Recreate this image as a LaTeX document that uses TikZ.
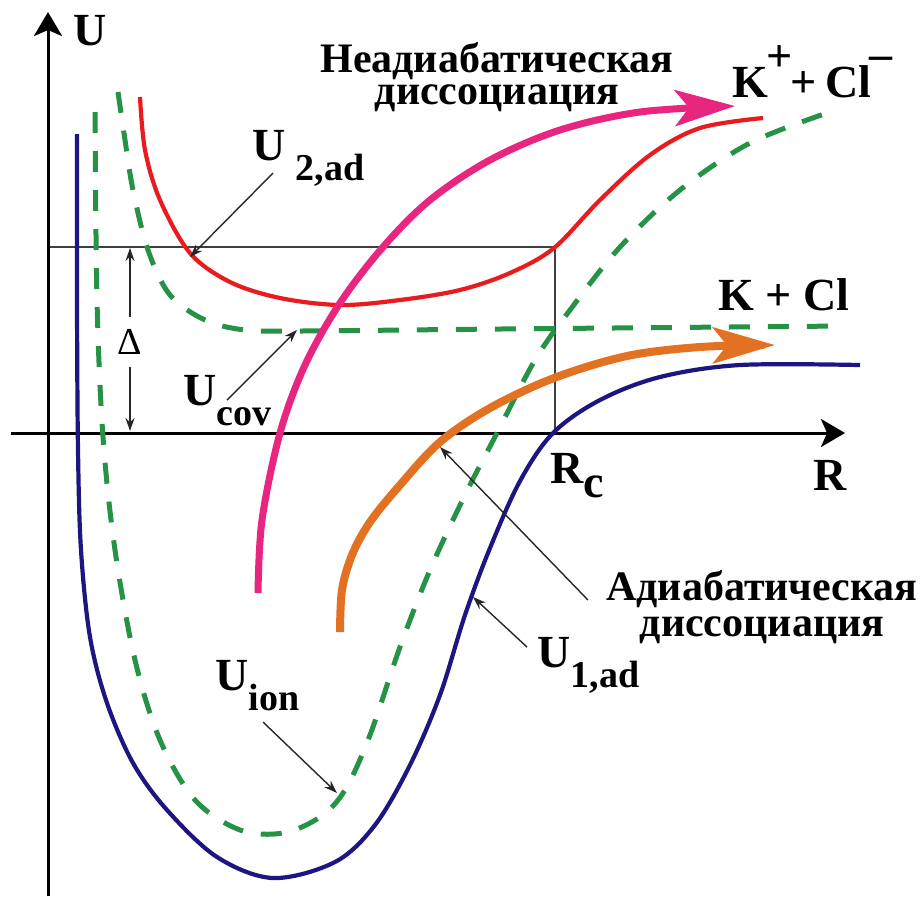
\documentclass[tikz,border=0pt]{standalone}
\usepackage{fontspec}
\setmainfont{Liberation Serif}
\usepackage{tikz}
\usetikzlibrary{positioning}
\usetikzlibrary{calc,arrows.meta}
\definecolor{adblue}{RGB}{30,22,128}
\definecolor{adred}{RGB}{232,28,30}
\definecolor{diagreen}{RGB}{38,146,70}
\definecolor{jumppink}{RGB}{232,38,128}
\definecolor{slideorange}{RGB}{226,114,34}
\newcommand{\lsub}[1]{\raisebox{-10pt}{\fontsize{19}{19}\selectfont #1}}

\begin{document}
\begin{tikzpicture}[x=0.5pt, y=-0.5pt,
axis/.style={line width=1.5pt, -{Stealth[length=12pt, width=14pt, inset=3pt]}},
guide/.style={line width=0.8pt, black!75},
pointer/.style={line width=0.7pt, black!85, -{Stealth[length=6.5pt, width=4.5pt]}},
adcurve/.style={line width=2.1pt},
diacurve/.style={line width=2.5pt, diagreen, dash pattern=on 10.5pt off 9pt},
lab/.style={font=\bfseries\fontsize{23}{23}\selectfont, inner sep=0pt, anchor=base west},
rus/.style={font=\bfseries\fontsize{21}{16}\selectfont, align=center, inner sep=0pt, anchor=north}
]
\useasboundingbox (0,0) rectangle (920,896);
%Points
\coordinate (ybot) at (48,896);
\coordinate (ytop) at (48,12);
\coordinate (xleft) at (11,433);
\coordinate (xright) at (845,433);
\coordinate (hl) at (48,247);
\coordinate (rctop) at (555,247);
\coordinate (rcbot) at (555,433);
\coordinate (dtop) at (130,248);
\coordinate (dbot) at (130,431);
\coordinate (u2tip) at (190,257);
\coordinate (covtip) at (297,330);
\coordinate (iontip) at (337,793);
\coordinate (u1tip) at (473,597);
\coordinate (adtip) at (440,447);
%Guides and axes
\draw[guide] (hl) -- (rctop) -- (rcbot);
\draw[axis] (ybot) -- (ytop);
\draw[axis] (xleft) -- (xright);
%Diabatic curves
\draw[diacurve] plot[smooth, tension=0.55] coordinates {(118,92) (125,140) (133,190) (148,250) (170,295) (205,320) (245,330) (300,331) (500,329) (845,326)};
\draw[diacurve] plot[smooth, tension=0.55] coordinates {(95,112) (97,300) (103,437) (115,550) (135,660) (160,740) (195,800) (240,830) (283,833) (320,817) (345,790) (370,735) (400,647) (430,570) (465,495) (497,433) (535,360) (570,310) (620,247) (680,190) (750,143) (830,112)};
%Adiabatic curves
\draw[adcurve, adblue] plot[smooth, tension=0.55] coordinates {(77,134) (77,300) (78,450) (81,550) (90,637) (107,703) (133,763) (167,810) (217,857) (273,878) (335,862) (375,825) (410,765) (440,695) (465,615) (490,548) (520,481) (553,433) (600,400) (660,377) (740,365) (860,365)};
\draw[adcurve, adred] plot[smooth, tension=0.55] coordinates {(140,97) (145,150) (160,200) (190,253) (230,282) (280,298) (340,305) (400,300) (460,290) (510,273) (554,248) (600,200) (650,155) (700,128) (763,118)};
%Dissociation paths
\draw[line width=3.5pt, jumppink, -{Stealth[length=30pt, width=18pt, inset=7pt]}] plot[smooth, tension=0.55] coordinates {(258,593) (262,520) (280,433) (305,365) (340,303) (383,247) (430,200) (490,160) (560,130) (640,112) (735,106)};
\draw[line width=4pt, slideorange, -{Stealth[length=31pt, width=18pt, inset=7pt]}] plot[smooth, tension=0.55] coordinates {(340,632) (342,590) (352,555) (370,522) (400,485) (440,442) (490,408) (554,378) (627,356) (700,347) (775,345)};
%Labels
\node[lab] (ulab) at (73,45) {U};
\node[lab] (rlab) at (813,490) {R};
\node[lab] (rclab) at (550,483) {R\raisebox{-7pt}{c}};
\node[lab] (u2lab) at (252,160) {U\hspace{5pt}\lsub{2,ad}};
\node[lab] (covlab) at (183,405) {U\lsub{cov}};
\node[lab] (ionlab) at (215,690) {U\lsub{ion}};
\node[lab] (u1lab) at (537,667) {U\lsub{1,ad}};
\node[lab] (ionpair) at (732,97) {K\kern-1pt\raisebox{13pt}{+}\kern-1pt+\hspace{0.2em}Cl\raisebox{14pt}{\kern-1pt\textendash}};
\node[lab] (atompair) at (718,310) {K + Cl};
\node[font=\fontsize{19}{19}\selectfont, inner sep=0pt, minimum height=25pt] (delta) at (130,342) {Δ};
\node[rus] (nonadlab) at (497,42) {Неадиабатическая\\диссоциация};
\node[rus, font=\bfseries\fontsize{21}{18}\selectfont] (adlab) at (762,570) {Адиабатическая\\диссоциация};
%Pointers
\draw[pointer] (delta.north) -- (dtop);
\draw[pointer] (delta.south) -- (dbot);
\draw[pointer] ($(u2lab.base west)+(21,13)$) -- (u2tip);
\draw[pointer] ($(covlab.base west)+(44,-5)$) -- (covtip);
\draw[pointer] ($(ionlab.base west)+(48,32)$) -- (iontip);
\draw[pointer] ($(u1lab.base west)+(-10,-20)$) -- (u1tip);
\draw[pointer] ($(adlab.north west)+(-18,30)$) -- (adtip);
\end{tikzpicture}
\end{document}
